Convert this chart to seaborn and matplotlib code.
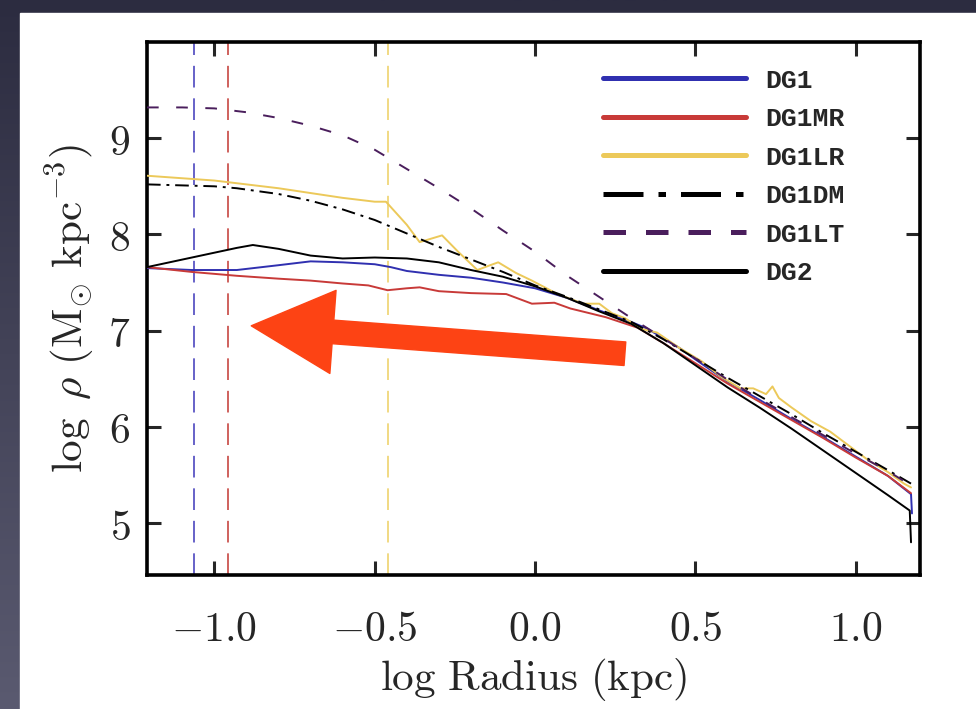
import numpy as np
import pandas as pd
import matplotlib
matplotlib.use("Agg")
import matplotlib.pyplot as plt
from matplotlib.patches import Rectangle
import seaborn as sns

# log radius (kpc) / log density per run
x_dg1 = [-1.21, -1.07, -0.93, -0.80, -0.70, -0.60, -0.50, -0.45, -0.40, -0.30, -0.20, -0.10,
         0.00, 0.10, 0.20, 0.30, 0.35, 0.40, 0.45, 0.50, 0.60, 0.70, 0.80, 0.90, 1.00, 1.10, 1.172, 1.175]
y_dg1 = [7.65, 7.63, 7.63, 7.68, 7.72, 7.71, 7.69, 7.66, 7.62, 7.58, 7.55, 7.50,
         7.44, 7.34, 7.21, 7.09, 7.02, 6.92, 6.82, 6.70, 6.47, 6.28, 6.08, 5.89, 5.69, 5.49, 5.30, 5.10]

x_mr = [-1.21, -1.07, -0.93, -0.80, -0.70, -0.60, -0.52, -0.46, -0.40, -0.36, -0.30, -0.20, -0.09,
        -0.01, 0.06, 0.11, 0.22, 0.32, 0.40, 0.50, 0.60, 0.70, 0.80, 0.90, 1.00, 1.10, 1.172]
y_mr = [7.66, 7.61, 7.57, 7.54, 7.52, 7.49, 7.47, 7.42, 7.44, 7.45, 7.41, 7.39, 7.38,
        7.28, 7.29, 7.23, 7.14, 7.03, 6.87, 6.66, 6.45, 6.26, 6.07, 5.88, 5.68, 5.49, 5.31]

x_lr = [-1.21, -1.00, -0.90, -0.80, -0.70, -0.60, -0.50, -0.465, -0.40, -0.36, -0.32, -0.29, -0.24,
        -0.18, -0.14, -0.115, -0.06, -0.01, 0.07, 0.15, 0.20, 0.24, 0.28, 0.33, 0.38, 0.45, 0.52,
        0.58, 0.64, 0.68, 0.72, 0.74, 0.76, 0.80, 0.86, 0.92, 0.98, 1.04, 1.10, 1.15, 1.172]
y_lr = [8.61, 8.56, 8.52, 8.48, 8.43, 8.38, 8.34, 8.34, 8.10, 7.92, 7.96, 7.99, 7.82,
        7.63, 7.68, 7.71, 7.60, 7.52, 7.38, 7.28, 7.28, 7.18, 7.13, 7.02, 6.98, 6.82, 6.68,
        6.52, 6.40, 6.40, 6.34, 6.42, 6.30, 6.20, 6.06, 5.95, 5.80, 5.65, 5.53, 5.41, 5.37]

x_dm = [-1.21, -1.00, -0.93, -0.80, -0.70, -0.60, -0.50, -0.40, -0.30, -0.20, -0.10, 0.00,
        0.10, 0.20, 0.30, 0.40, 0.50, 0.60, 0.70, 0.80, 0.90, 1.00, 1.10, 1.172]
y_dm = [8.52, 8.50, 8.48, 8.42, 8.35, 8.26, 8.15, 8.01, 7.87, 7.74, 7.61, 7.47,
        7.35, 7.22, 7.09, 6.91, 6.71, 6.51, 6.32, 6.13, 5.93, 5.74, 5.55, 5.41]

x_lt = [-1.21, -1.10, -1.00, -0.90, -0.80, -0.70, -0.60, -0.50, -0.40, -0.30, -0.20, -0.10,
        0.00, 0.10, 0.20, 0.30, 0.40, 0.50, 0.60, 0.70, 0.80, 0.90, 1.00, 1.10, 1.172]
y_lt = [9.32, 9.32, 9.31, 9.27, 9.21, 9.13, 9.03, 8.88, 8.68, 8.48, 8.27, 8.04,
        7.82, 7.57, 7.35, 7.13, 6.92, 6.71, 6.49, 6.29, 6.10, 5.91, 5.72, 5.54, 5.39]

x_dg2 = [-1.21, -1.07, -0.93, -0.88, -0.80, -0.70, -0.60, -0.50, -0.40, -0.30, -0.20, -0.10,
         0.00, 0.10, 0.20, 0.30, 0.40, 0.50, 0.60, 0.70, 0.80, 0.90, 1.00, 1.10, 1.168, 1.172]
y_dg2 = [7.66, 7.76, 7.86, 7.89, 7.85, 7.78, 7.75, 7.76, 7.75, 7.71, 7.63, 7.56,
         7.46, 7.34, 7.20, 7.07, 6.87, 6.64, 6.41, 6.20, 5.98, 5.75, 5.52, 5.29, 5.13, 4.80]

# softening / resolution markers (vertical dashed lines)
vline_x = [-1.065, -0.956, -0.46]
vline_colors = ["#5a55c4", "#cc5550", "#f0d77a"]

labels = ["DG1", "DG1MR", "DG1LR", "DG1DM", "DG1LT", "DG2"]
colors = ["#3030b0", "#c83a38", "#ecc95a", "#000000", "#4a1e5c", "#000000"]
dash_styles = [None, None, None, (7, 3, 1.5, 3), (6, 9), None]
xs = [x_dg1, x_mr, x_lr, x_dm, x_lt, x_dg2]
ys = [y_dg1, y_mr, y_lr, y_dm, y_lt, y_dg2]

sns.set_theme(style="ticks")
plt.rcParams["mathtext.fontset"] = "cm"
plt.rcParams["font.family"] = ["DejaVu Serif"]

fig = plt.figure(figsize=(9.76, 7.09), dpi=100)
fig.patch.set_facecolor("#34344a")

# slide background: dark border gradient + white panel
bg = fig.add_axes([0, 0, 1, 1], zorder=-2)
grad = np.linspace(0, 1, 256).reshape(-1, 1)
bg.imshow(grad, aspect="auto", extent=[0, 1, 0, 1], origin="upper",
          cmap=matplotlib.colors.LinearSegmentedColormap.from_list("bg", ["#2c2c40", "#5a5a70"]))
bg.set_axis_off()
bg.add_patch(Rectangle((20 / 976, 0), 1, 1 - 13 / 709, color="white", zorder=2))

ax = fig.add_axes([147 / 976, 1 - 575 / 709, 773 / 976, 533 / 709])
ax.set_facecolor("white")

for xv, c in zip(vline_x, vline_colors):
    ax.axvline(xv, color=c, lw=1.3, dashes=(12, 6), zorder=1)

for xv, yv, lab, c, d in zip(xs, ys, labels, colors, dash_styles):
    df = pd.DataFrame({"x": xv, "y": yv})
    sns.lineplot(data=df, x="x", y="y", ax=ax, color=c, lw=1.4, label=lab,
                 estimator=None, sort=False, zorder=3)
    if d is not None:
        ax.lines[-1].set_dashes(d)

ax.set_xlim(-1.21, 1.2)
ax.set_ylim(4.46, 10.0)
ax.set_xticks([-1.0, -0.5, 0.0, 0.5, 1.0])
ax.set_yticks([5, 6, 7, 8, 9])
ax.set_xticklabels([r"$-1.0$", r"$-0.5$", r"$0.0$", r"$0.5$", r"$1.0$"])
ax.set_yticklabels([r"$5$", r"$6$", r"$7$", r"$8$", r"$9$"])
ax.tick_params(direction="in", length=10, width=2.2, labelsize=30, top=True, right=True)
ax.tick_params(axis="x", pad=24)
ax.tick_params(axis="y", pad=12)
for s in ax.spines.values():
    s.set_linewidth(2.6)
    s.set_color("black")

ax.set_xlabel(r"$\mathrm{log\ Radius\ (kpc)}$", fontsize=31, labelpad=4)
ax.set_ylabel(r"$\log\ \rho\ (\mathrm{M}_{\odot}\ \mathrm{kpc}^{-3})$", fontsize=31, labelpad=8)

# arrow pointing to the core
ax.annotate("", xy=(-0.885, 7.05), xytext=(0.28, 6.76),
            arrowprops=dict(arrowstyle="simple,head_width=6.0,head_length=5.9,tail_width=1.7",
                            mutation_scale=10, color="#fd4314", shrinkA=0, shrinkB=0), zorder=5)

leg = ax.legend(loc="upper left", bbox_to_anchor=(0.59, 0.95), frameon=False,
                handlelength=5.4, handletextpad=0.75, labelspacing=0.55, borderpad=0,
                borderaxespad=0, prop={"family": "Liberation Mono", "weight": "bold", "size": 19})
for ln, d in zip(leg.get_lines(), dash_styles):
    ln.set_linewidth(3.6)
    if d == (6, 9):
        ln.set_dashes((4.5, 4))
    elif d is not None:
        ln.set_dashes((8, 3, 1.5, 3))

fig.savefig("out.png", dpi=100)
